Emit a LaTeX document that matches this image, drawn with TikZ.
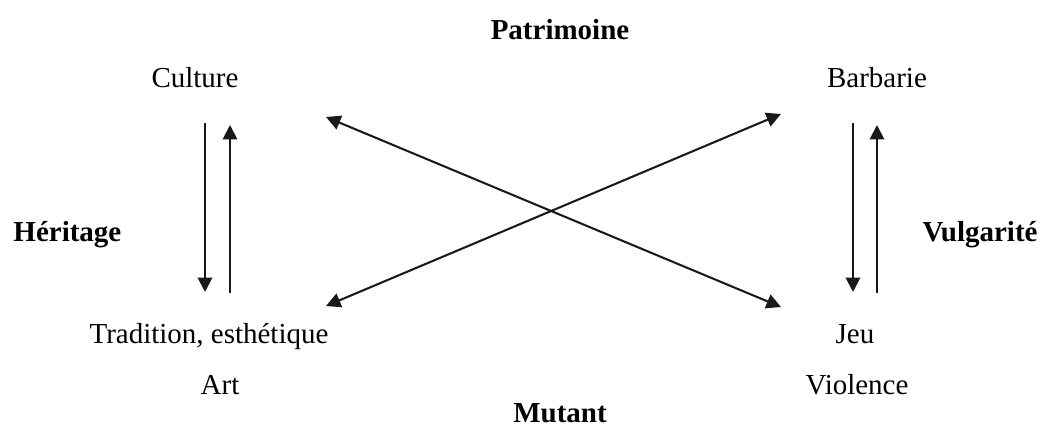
\documentclass[tikz,border=0pt]{standalone}
\usepackage{fontspec}
\setmainfont{Liberation Serif}
\usetikzlibrary{arrows.meta}
\tikzset{
  term/.style={anchor=base, font=\fontsize{12}{14}\selectfont, inner sep=0pt},
  pole/.style={term, font=\fontsize{12}{14}\selectfont\bfseries},
  arr/.style={-{Triangle[length=6pt, width=6pt]}, line width=0.85pt, black!90},
  darr/.style={arr, {Triangle[length=6pt, width=6pt]}-{Triangle[length=6pt, width=6pt]}},
}
\begin{document}
\begin{tikzpicture}[x=0.414pt, y=-0.414pt]
    \useasboundingbox (0,0) rectangle (1045,448);
    % axes labels
    \node[pole] (patri) at (560,40) {Patrimoine};
    \node[pole] (mutant) at (560,422) {Mutant};
    \node[pole, anchor=base west] (herit) at (13,242) {Héritage};
    \node[pole, anchor=base east] (vulg) at (1038,242) {Vulgarité};
    % poles
    \node[term] (culture) at (195,87) {Culture};
    \node[term] (barbarie) at (877,87) {Barbarie};
    \node[term] (tradition) at (209,343) {Tradition, esthétique};
    \node[term] (art) at (220,394) {Art};
    \node[term] (jeu) at (855,343) {Jeu};
    \node[term] (violence) at (857,394) {Violence};
    % arrow ends
    \coordinate (l1) at (205,123); \coordinate (l2) at (205,292);
    \coordinate (l3) at (230,293); \coordinate (l4) at (230,125);
    \coordinate (r1) at (853,123); \coordinate (r2) at (853,292);
    \coordinate (r3) at (877,293); \coordinate (r4) at (877,125);
    \coordinate (ctl) at (326,117); \coordinate (cbr) at (781,307);
    \coordinate (cbl) at (326,306); \coordinate (ctr) at (781,114);
    \draw[arr] (l1) -- (l2);
    \draw[arr] (l3) -- (l4);
    \draw[arr] (r1) -- (r2);
    \draw[arr] (r3) -- (r4);
    \draw[darr] (ctl) -- (cbr);
    \draw[darr] (cbl) -- (ctr);
\end{tikzpicture}
\end{document}
